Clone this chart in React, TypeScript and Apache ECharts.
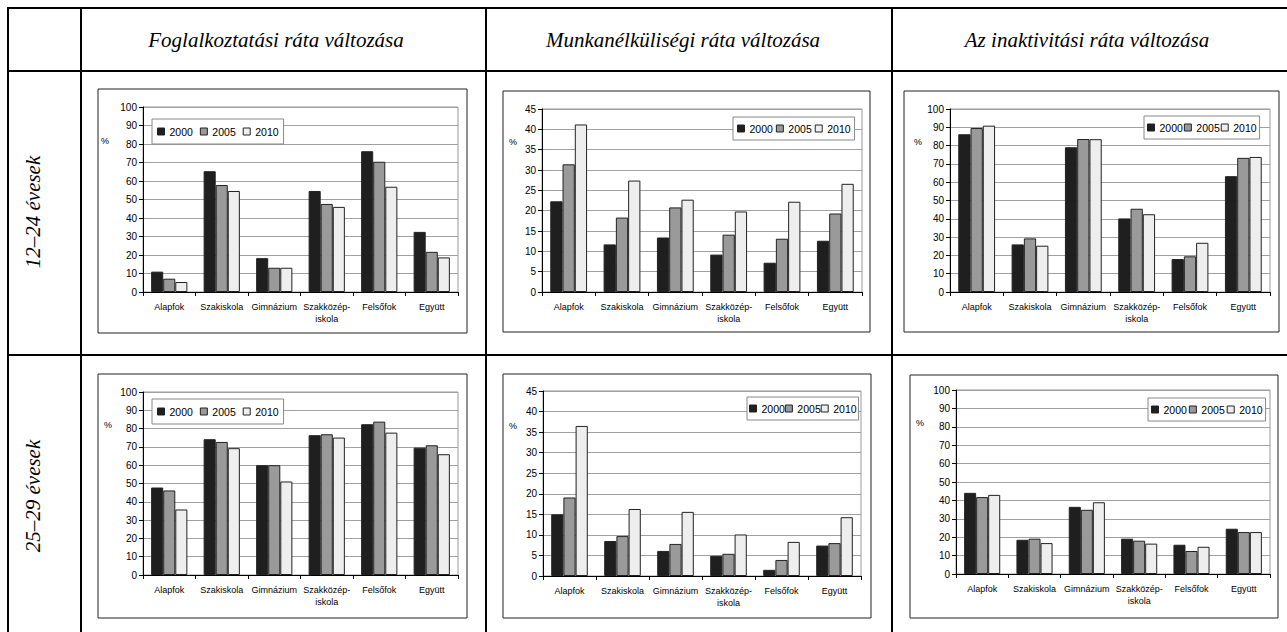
import React, { useEffect, useRef } from "react";
import * as echarts from "echarts";

const categories = ["Alapfok", "Szakiskola", "Gimnázium", "Szakközép-\niskola", "Felsőfok", "Együtt"];
const years = ["2000", "2005", "2010"];
const columnTitles = ["Foglalkoztatási ráta változása", "Munkanélküliségi ráta változása", "Az inaktivitási ráta változása"];
const rowTitles = ["12–24 évesek", "25–29 évesek"];
const yUnit = "%";

// 12–24 évesek
const foglalkoztatas1224_2000 = [11, 65.3, 18.3, 54.6, 76.1, 32.5];
const foglalkoztatas1224_2005 = [7.2, 57.8, 13.1, 47.6, 70.4, 21.7];
const foglalkoztatas1224_2010 = [5.4, 54.6, 13.1, 46, 56.9, 18.7];
const munkanelkuli1224_2000 = [22.3, 11.7, 13.4, 9.2, 7.2, 12.6];
const munkanelkuli1224_2005 = [31.4, 18.3, 20.8, 14.1, 13.1, 19.3];
const munkanelkuli1224_2010 = [41.2, 27.4, 22.7, 19.8, 22.2, 26.6];
const inaktiv1224_2000 = [86.2, 26, 79.1, 40.2, 18, 63.3];
const inaktiv1224_2005 = [89.6, 29.3, 83.6, 45.5, 19.5, 73.3];
const inaktiv1224_2010 = [90.9, 25.3, 83.5, 42.5, 26.9, 73.8];
// 25–29 évesek
const foglalkoztatas2529_2000 = [47.8, 74.2, 60, 76.4, 82.4, 69.6];
const foglalkoztatas2529_2005 = [46.2, 72.7, 60, 76.9, 83.8, 70.9];
const foglalkoztatas2529_2010 = [35.8, 69.3, 51.1, 75.1, 77.8, 66];
const munkanelkuli2529_2000 = [15, 8.5, 6.1, 4.9, 1.5, 7.4];
const munkanelkuli2529_2005 = [19.1, 9.7, 7.8, 5.4, 3.9, 8];
const munkanelkuli2529_2010 = [36.5, 16.3, 15.6, 10.1, 8.3, 14.3];
const inaktiv2529_2000 = [44.1, 18.6, 36.5, 19.2, 15.9, 24.6];
const inaktiv2529_2005 = [41.8, 19.2, 34.9, 18.1, 12.5, 22.8];
const inaktiv2529_2010 = [43, 16.8, 39, 16.5, 14.8, 22.8];

const yMaxes = [100, 45, 100, 100, 45, 100];
const yIntervals = [10, 5, 10, 10, 5, 10];

const panelData = [
  [foglalkoztatas1224_2000, foglalkoztatas1224_2005, foglalkoztatas1224_2010],
  [munkanelkuli1224_2000, munkanelkuli1224_2005, munkanelkuli1224_2010],
  [inaktiv1224_2000, inaktiv1224_2005, inaktiv1224_2010],
  [foglalkoztatas2529_2000, foglalkoztatas2529_2005, foglalkoztatas2529_2010],
  [munkanelkuli2529_2000, munkanelkuli2529_2005, munkanelkuli2529_2010],
  [inaktiv2529_2000, inaktiv2529_2005, inaktiv2529_2010],
];

// layout
const grids = [
  { left: 143, top: 107, width: 315, height: 185 },
  { left: 542, top: 109, width: 320, height: 183 },
  { left: 950, top: 109, width: 320, height: 183 },
  { left: 143, top: 392, width: 315, height: 183 },
  { left: 543, top: 391, width: 318, height: 185 },
  { left: 956, top: 390, width: 314, height: 184 },
];
const boxes = [
  [98, 89, 369, 244],
  [503, 91, 367, 241],
  [904, 91, 375, 241],
  [98, 374, 369, 244],
  [503, 374, 368, 244],
  [910, 375, 368, 243],
];
const legends = [
  { left: 152, top: 119, pad: [7, 5], gap: 7 },
  { left: 733, top: 117, pad: [6, 4], gap: 3 },
  { left: 1144, top: 116, pad: [6, 3], gap: 1 },
  { left: 152, top: 399, pad: [7, 5], gap: 7 },
  { left: 747, top: 397, pad: [6, 2], gap: 0 },
  { left: 1148, top: 398, pad: [6, 3], gap: 2 },
];
const pctPos = [
  [105, 141], [513, 142], [918, 142], [108, 425], [513, 426], [920, 423],
];
const colors = ["#1f1f1f", "#9a9a9a", "#eeeeee"];

export default function App() {
  const ref = useRef<HTMLDivElement>(null);
  useEffect(() => {
    if (!ref.current) return;
    const chart = echarts.init(ref.current, undefined, { renderer: "svg" });
    const sans = "Liberation Sans, Arial, sans-serif";
    const serif = "Liberation Serif, Times New Roman, serif";

    const series: any[] = [];
    panelData.forEach((arrs, p) => {
      arrs.forEach((arr, k) => {
        series.push({
          type: "bar",
          name: years[k],
          xAxisIndex: p,
          yAxisIndex: p,
          data: arr,
          barGap: "0%",
          barCategoryGap: "31%",
          itemStyle: { color: colors[k], borderColor: "#222", borderWidth: 1 },
          emphasis: { disabled: true },
        });
      });
    });

    const graphics: any[] = [];
    const tl = (x1: number, y1: number, x2: number, y2: number) =>
      graphics.push({ type: "line", shape: { x1, y1, x2, y2 }, style: { stroke: "#000", lineWidth: 2 }, silent: true });
    tl(7, 8, 1287, 8);
    tl(7, 71, 1287, 71);
    tl(7, 355, 1287, 355);
    tl(8, 7, 8, 632);
    tl(81, 7, 81, 632);
    tl(486, 7, 486, 632);
    tl(892, 7, 892, 632);
    const colCenters = [276, 683, 1087];
    columnTitles.forEach((t, i) =>
      graphics.push({
        type: "text",
        x: colCenters[i],
        y: 40,
        style: { text: t, fontFamily: serif, fontStyle: "italic", fontSize: 21, fill: "#000", align: "center", verticalAlign: "middle" },
      })
    );
    const rowCenters = [212, 496];
    rowTitles.forEach((t, i) =>
      graphics.push({
        type: "text",
        x: 33,
        y: rowCenters[i],
        rotation: Math.PI / 2,
        style: { text: t, fontFamily: serif, fontStyle: "italic", fontSize: 21, fill: "#000", align: "center", verticalAlign: "middle" },
      })
    );
    boxes.forEach(([x, y, w, h]) =>
      graphics.push({
        type: "rect",
        shape: { x, y, width: w, height: h },
        style: { fill: "rgba(0,0,0,0)", stroke: "#222", lineWidth: 1 },
        silent: true,
      })
    );
    pctPos.forEach(([x, y]) =>
      graphics.push({
        type: "text",
        x,
        y,
        style: { text: yUnit, fontFamily: sans, fontSize: 9, fill: "#000", align: "center", verticalAlign: "middle" },
      })
    );

    chart.setOption({
      animation: false,
      backgroundColor: "#fff",
      grid: grids.map((g) => ({ ...g, show: true, borderColor: "#999", borderWidth: 1, backgroundColor: "transparent" })),
      xAxis: grids.map((_, i) => ({
        type: "category",
        gridIndex: i,
        data: categories,
        axisLine: { lineStyle: { color: "#000", width: 1 } },
        axisTick: { show: true, length: 4, lineStyle: { color: "#000" } },
        axisLabel: { fontSize: 9, fontFamily: sans, color: "#000", margin: 9, lineHeight: 12, interval: 0 },
        splitLine: { show: false },
      })),
      yAxis: grids.map((_, i) => ({
        type: "value",
        gridIndex: i,
        min: 0,
        max: yMaxes[i],
        interval: yIntervals[i],
        axisLine: { show: true, lineStyle: { color: "#000", width: 1 } },
        axisTick: { show: true, length: 4, lineStyle: { color: "#000" } },
        axisLabel: { fontSize: 10, fontFamily: sans, color: "#000", margin: 6 },
        splitLine: { show: true, lineStyle: { color: "#a0a0a0", width: 1 } },
      })),
      legend: legends.map((l) => ({
        data: years,
        left: l.left,
        top: l.top,
        orient: "horizontal",
        icon: "rect",
        itemWidth: 7,
        itemHeight: 7,
        itemGap: l.gap,
        padding: l.pad,
        borderColor: "#888",
        borderWidth: 1,
        backgroundColor: "#fff",
        selectedMode: false,
        itemStyle: { borderColor: "#222", borderWidth: 1 },
        textStyle: { fontSize: 10.5, fontFamily: sans, color: "#000" },
      })),
      series,
      graphic: graphics,
    });
    return () => chart.dispose();
  }, []);
  return (
    <div
      ref={ref}
      style={{ position: "fixed", left: 0, top: 0, width: 1287, height: 632, background: "#fff" }}
    />
  );
}
